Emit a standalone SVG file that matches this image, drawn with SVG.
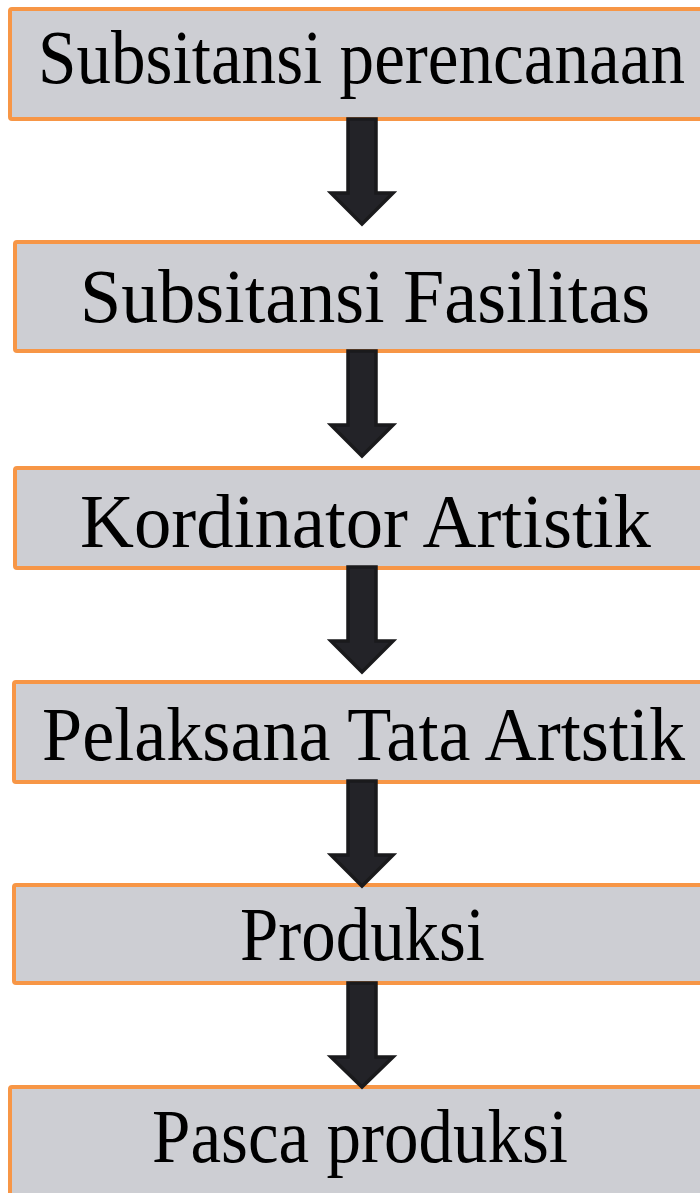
<svg xmlns="http://www.w3.org/2000/svg" width="700" height="1193" viewBox="0 0 700 1193">
<style>
.box{fill:#CDCED3;stroke:#F79646;stroke-width:4;}
.lbl{font-family:"Liberation Serif","Times New Roman",serif;font-size:76px;fill:#000;}
.arr{fill:#232328;stroke:#1A1A1C;stroke-width:3.5;stroke-linejoin:miter;}
</style>
<rect x="0" y="0" width="700" height="1193" fill="#fff"/>
<g id="node1"><rect class="box" x="10" y="9" width="720" height="110" rx="2"/><text class="lbl" x="38" y="83" textLength="647" lengthAdjust="spacingAndGlyphs">Subsitansi perencanaan</text></g>
<g id="node2"><rect class="box" x="15" y="242" width="720" height="109" rx="2"/><text class="lbl" x="80" y="322" textLength="570" lengthAdjust="spacingAndGlyphs">Subsitansi Fasilitas</text></g>
<g id="node3"><rect class="box" x="15" y="468" width="720" height="100" rx="2"/><text class="lbl" x="80" y="547" textLength="571" lengthAdjust="spacingAndGlyphs">Kordinator Artistik</text></g>
<g id="node4"><rect class="box" x="14" y="682" width="720" height="100" rx="2"/><text class="lbl" x="42" y="760" textLength="643" lengthAdjust="spacingAndGlyphs">Pelaksana Tata Artstik</text></g>
<g id="node5"><rect class="box" x="14" y="885" width="720" height="98" rx="2"/><text class="lbl" x="240" y="960" textLength="245" lengthAdjust="spacingAndGlyphs">Produksi</text></g>
<g id="node6"><rect class="box" x="10" y="1087" width="720" height="130" rx="2"/><text class="lbl" x="152" y="1162" textLength="416" lengthAdjust="spacingAndGlyphs">Pasca produksi</text></g>
<g id="connectors">
<polygon class="arr" points="348,119 376,119 376,193 393,193 362,224 331,193 348,193"/>
<polygon class="arr" points="348,351 376,351 376,425 393,425 362,456 331,425 348,425"/>
<polygon class="arr" points="348,567 376,567 376,641 393,641 362,672 331,641 348,641"/>
<polygon class="arr" points="348,781 376,781 376,855 393,855 362,886 331,855 348,855"/>
<polygon class="arr" points="348,983 376,983 376,1057 393,1057 362,1087 331,1057 348,1057"/>
</g>
</svg>
